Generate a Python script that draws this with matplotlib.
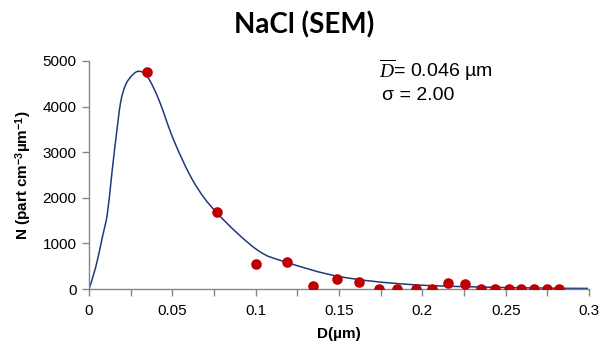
import numpy as np
import matplotlib.pyplot as plt
from matplotlib.path import Path
from matplotlib.patches import PathPatch
from matplotlib.ticker import MultipleLocator

plt.rcParams['font.family'] = ['Liberation Sans', 'DejaVu Sans']
plt.rcParams['mathtext.fontset'] = 'custom'
plt.rcParams['mathtext.it'] = 'Liberation Serif:italic'
plt.rcParams['mathtext.rm'] = 'Liberation Sans'
plt.rcParams['mathtext.bf'] = 'Liberation Sans:bold'

# measured points (SEM)
d_meas = [0.0348, 0.0768, 0.1002, 0.1188, 0.1344, 0.1488, 0.1620, 0.1740, 0.1850,
          0.1960, 0.2058, 0.2152, 0.2254, 0.2354, 0.2438, 0.2518, 0.2594, 0.2672,
          0.2748, 0.2818]
n_meas = [4760, 1690, 548, 592, 66, 226, 160, 0, 0,
          0, 0, 125, 110, 0, 0, 0, 0, 0,
          0, 0]

# lognormal fit curve
d_fit = [0.0, 0.004, 0.008, 0.011, 0.0136, 0.0164, 0.019, 0.022, 0.026, 0.030,
         0.035, 0.0419, 0.0509, 0.0629, 0.0769, 0.1008, 0.1188, 0.1507, 0.1946,
         0.2545, 0.2994]
n_fit = [0, 475, 1134, 1648, 2500, 3380, 4100, 4480, 4690, 4774,
         4660, 4150, 3258, 2342, 1661, 860, 584, 270, 94,
         29, 13]


def smooth_path(xs, ys):
    # Excel-like smoothed line: Catmull-Rom segments as cubic Beziers
    p = np.column_stack([xs, ys])
    verts = [p[0]]
    codes = [Path.MOVETO]
    for i in range(len(p) - 1):
        p0 = p[max(i - 1, 0)]
        p1, p2 = p[i], p[i + 1]
        p3 = p[min(i + 2, len(p) - 1)]
        verts += [p1 + (p2 - p0) / 6, p2 - (p3 - p1) / 6, p2]
        codes += [Path.CURVE4] * 3
    return Path(verts, codes)


fig = plt.figure(figsize=(6.08, 3.56), dpi=100)
ax = fig.add_axes([0.1464, 0.1882, 0.8224, 0.6405])

ax.add_patch(PathPatch(smooth_path(d_fit, n_fit), fill=False,
                       edgecolor='#1f3a7a', lw=1.1, zorder=2))
ax.scatter(d_meas, n_meas, s=58, color='#c00000', zorder=3, linewidths=0)

ax.set_xlim(0, 0.3)
ax.set_ylim(0, 5000)
ax.set_xticks([0, 0.05, 0.1, 0.15, 0.2, 0.25, 0.3])
ax.set_xticklabels(['0', '0.05', '0.1', '0.15', '0.2', '0.25', '0.3'])
ax.xaxis.set_minor_locator(MultipleLocator(0.025))
ax.yaxis.set_major_locator(MultipleLocator(1000))

for s in ['top', 'right']:
    ax.spines[s].set_visible(False)
for s in ['left', 'bottom']:
    ax.spines[s].set_color('#868686')
    ax.spines[s].set_linewidth(1.0)
ax.tick_params(which='both', direction='out', length=5, width=1.0,
               color='#868686', labelsize=11, pad=6)
ax.tick_params(axis='y', pad=4)

ax.set_xlabel('D(µm)', fontsize=11, fontweight='bold', labelpad=6)
ax.set_ylabel(r'N (part cm$^{\mathbf{-3}}$µm$^{\mathbf{-1}}$)', fontsize=11,
              fontweight='bold', labelpad=6)
fig.suptitle('NaCl (SEM)', fontsize=20, fontweight='bold', family='Lato',
             x=0.5, y=0.968)

ax.text(0.174, 4640, r'$\overline{D}$= 0.046 µm', fontsize=14)
ax.text(0.176, 4140, 'σ = 2.00', fontsize=14)

fig.savefig('out.png', dpi=100)
